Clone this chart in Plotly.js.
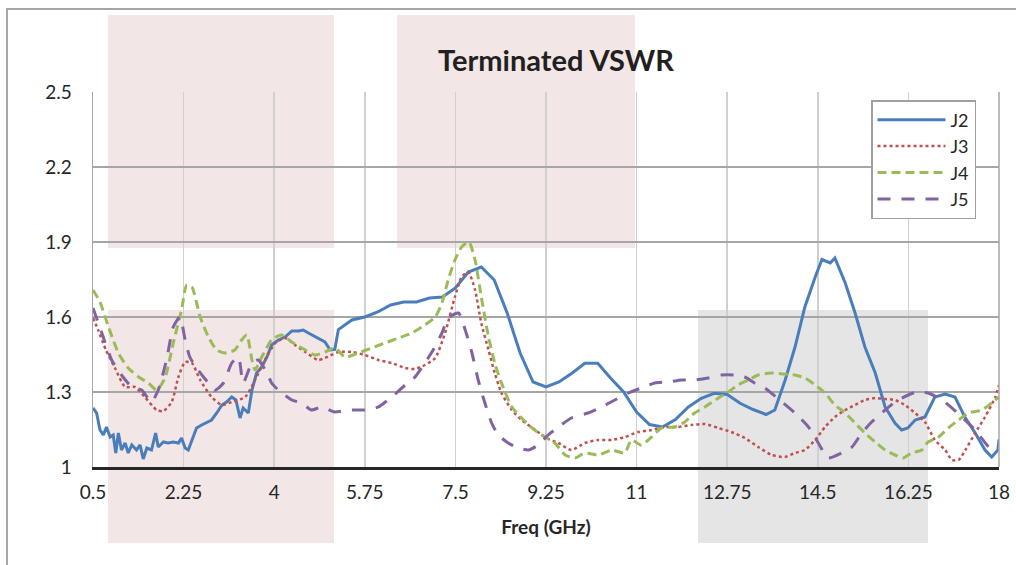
<!DOCTYPE html>
<html>
<head>
<meta charset="utf-8">
<script src="https://cdn.plot.ly/plotly-3.0.1.min.js"></script>
<style>html,body{margin:0;padding:0;background:#fff;}#chart{width:1016px;height:565px;}</style>
</head>
<body>
<div id="chart"></div>
<script>
// ---- data ----
const xTicks = [0.5, 2.25, 4, 5.75, 7.5, 9.25, 11, 12.75, 14.5, 16.25, 18];
const xTickLabels = ["0.5", "2.25", "4", "5.75", "7.5", "9.25", "11", "12.75", "14.5", "16.25", "18"];
const yTicks = [1, 1.3, 1.6, 1.9, 2.2, 2.5];
const yTickLabels = ["1", "1.3", "1.6", "1.9", "2.2", "2.5"];

const freqJ2 = [0.5, 0.57, 0.635, 0.70, 0.76, 0.83, 0.89, 0.94, 0.99, 1.05, 1.12, 1.18, 1.25, 1.34, 1.41, 1.47, 1.54, 1.63, 1.71, 1.76, 1.86, 1.95, 2.05, 2.15, 2.21, 2.28, 2.34, 2.41, 2.50, 2.60, 2.70, 2.79, 2.89, 2.99, 3.08, 3.18, 3.26, 3.34, 3.40, 3.50, 3.57, 3.66, 3.76, 3.86, 3.95, 4.08, 4.21, 4.34, 4.47, 4.56, 4.66, 4.85, 4.98, 5.08, 5.17, 5.24, 5.5, 5.75, 6.0, 6.25, 6.5, 6.75, 7.0, 7.25, 7.5, 7.75, 8.0, 8.25, 8.5, 8.75, 9.0, 9.25, 9.5, 9.75, 10.0, 10.25, 10.5, 10.75, 11.0, 11.25, 11.5, 11.75, 12.0, 12.25, 12.5, 12.75, 13.0, 13.25, 13.5, 13.67, 13.87, 14.06, 14.25, 14.45, 14.58, 14.74, 14.83, 15.03, 15.22, 15.41, 15.61, 15.80, 15.99, 16.12, 16.24, 16.38, 16.57, 16.76, 16.96, 17.15, 17.34, 17.54, 17.73, 17.86, 17.98, 18.0];
const vswrJ2 = [1.236, 1.216, 1.148, 1.128, 1.16, 1.12, 1.128, 1.056, 1.136, 1.068, 1.096, 1.056, 1.088, 1.068, 1.088, 1.032, 1.076, 1.068, 1.136, 1.08, 1.10, 1.096, 1.10, 1.096, 1.116, 1.076, 1.068, 1.108, 1.156, 1.168, 1.18, 1.188, 1.216, 1.248, 1.26, 1.28, 1.268, 1.196, 1.236, 1.216, 1.308, 1.376, 1.40, 1.44, 1.488, 1.508, 1.52, 1.544, 1.544, 1.548, 1.536, 1.516, 1.50, 1.468, 1.47, 1.55, 1.588, 1.60, 1.62, 1.648, 1.66, 1.66, 1.676, 1.68, 1.716, 1.78, 1.80, 1.748, 1.616, 1.456, 1.34, 1.32, 1.34, 1.375, 1.415, 1.415, 1.355, 1.30, 1.22, 1.17, 1.16, 1.19, 1.24, 1.275, 1.295, 1.29, 1.255, 1.23, 1.21, 1.228, 1.348, 1.48, 1.64, 1.76, 1.83, 1.816, 1.836, 1.736, 1.616, 1.48, 1.376, 1.24, 1.176, 1.148, 1.156, 1.188, 1.20, 1.28, 1.292, 1.28, 1.20, 1.136, 1.068, 1.04, 1.068, 1.11];

const freqJ3 = [0.5, 0.60, 0.75, 0.925, 1.12, 1.31, 1.50, 1.73, 1.86, 2.02, 2.15, 2.28, 2.41, 2.57, 2.79, 2.99, 3.18, 3.44, 3.63, 3.82, 4.02, 4.21, 4.40, 4.60, 4.85, 4.98, 5.24, 5.5, 5.75, 6.01, 6.27, 6.53, 6.72, 6.91, 7.11, 7.30, 7.49, 7.62, 7.75, 7.88, 8.0, 8.14, 8.26, 8.39, 8.59, 8.78, 9.04, 9.29, 9.49, 9.74, 10.0, 10.26, 10.52, 10.77, 11.03, 11.29, 11.55, 11.8, 12.06, 12.32, 12.58, 12.83, 13.09, 13.35, 13.61, 13.86, 14.06, 14.25, 14.45, 14.64, 14.83, 15.03, 15.22, 15.41, 15.61, 15.80, 15.99, 16.18, 16.38, 16.57, 16.76, 16.96, 17.09, 17.22, 17.35, 17.54, 17.73, 17.93, 18.0];
const vswrJ3 = [1.596, 1.548, 1.468, 1.396, 1.32, 1.32, 1.28, 1.228, 1.224, 1.26, 1.36, 1.42, 1.416, 1.348, 1.28, 1.248, 1.26, 1.28, 1.348, 1.428, 1.496, 1.516, 1.488, 1.46, 1.428, 1.436, 1.46, 1.46, 1.448, 1.428, 1.416, 1.396, 1.392, 1.408, 1.436, 1.536, 1.68, 1.76, 1.78, 1.708, 1.576, 1.468, 1.376, 1.296, 1.228, 1.188, 1.148, 1.112, 1.096, 1.068, 1.096, 1.108, 1.108, 1.12, 1.14, 1.148, 1.16, 1.16, 1.168, 1.172, 1.156, 1.14, 1.116, 1.08, 1.048, 1.04, 1.056, 1.068, 1.108, 1.16, 1.20, 1.228, 1.248, 1.268, 1.276, 1.272, 1.268, 1.248, 1.216, 1.18, 1.108, 1.068, 1.028, 1.028, 1.068, 1.136, 1.20, 1.28, 1.328];

const freqJ4 = [0.5, 0.635, 0.80, 0.99, 1.18, 1.38, 1.57, 1.73, 1.89, 2.05, 2.21, 2.31, 2.41, 2.57, 2.73, 2.89, 3.05, 3.24, 3.37, 3.47, 3.57, 3.63, 3.76, 3.95, 4.14, 4.34, 4.60, 4.79, 4.98, 5.17, 5.37, 5.62, 5.88, 6.14, 6.40, 6.66, 6.91, 7.11, 7.24, 7.36, 7.49, 7.62, 7.76, 7.88, 8.0, 8.14, 8.26, 8.39, 8.59, 8.78, 8.98, 9.17, 9.42, 9.62, 9.81, 10.0, 10.26, 10.52, 10.77, 10.9, 11.09, 11.29, 11.48, 11.74, 11.93, 12.12, 12.32, 12.58, 12.77, 12.96, 13.16, 13.35, 13.61, 13.84, 14.06, 14.25, 14.45, 14.64, 14.83, 15.03, 15.22, 15.41, 15.61, 15.80, 15.99, 16.15, 16.31, 16.51, 16.63, 16.83, 17.02, 17.22, 17.41, 17.67, 17.86, 18.0];
const vswrJ4 = [1.708, 1.66, 1.56, 1.456, 1.396, 1.36, 1.336, 1.308, 1.356, 1.496, 1.628, 1.728, 1.72, 1.60, 1.52, 1.468, 1.456, 1.468, 1.508, 1.528, 1.428, 1.388, 1.44, 1.508, 1.528, 1.50, 1.468, 1.448, 1.46, 1.476, 1.44, 1.456, 1.476, 1.496, 1.516, 1.536, 1.568, 1.60, 1.656, 1.748, 1.828, 1.88, 1.90, 1.828, 1.68, 1.52, 1.416, 1.336, 1.24, 1.196, 1.156, 1.128, 1.096, 1.048, 1.036, 1.056, 1.048, 1.068, 1.056, 1.108, 1.088, 1.12, 1.156, 1.16, 1.18, 1.216, 1.24, 1.276, 1.30, 1.328, 1.348, 1.368, 1.376, 1.372, 1.368, 1.356, 1.328, 1.296, 1.248, 1.216, 1.176, 1.136, 1.10, 1.068, 1.048, 1.036, 1.056, 1.068, 1.10, 1.12, 1.156, 1.188, 1.216, 1.228, 1.256, 1.28];

const freqJ5 = [0.5, 0.67, 0.86, 1.05, 1.25, 1.44, 1.63, 1.76, 1.92, 2.05, 2.18, 2.28, 2.37, 2.53, 2.73, 2.86, 3.02, 3.18, 3.31, 3.40, 3.57, 3.69, 3.86, 3.95, 4.08, 4.34, 4.53, 4.72, 4.92, 5.17, 5.43, 5.75, 6.01, 6.27, 6.53, 6.72, 6.91, 7.07, 7.24, 7.36, 7.56, 7.69, 7.82, 7.94, 8.07, 8.20, 8.33, 8.52, 8.72, 8.91, 9.10, 9.29, 9.49, 9.74, 10.06, 10.32, 10.58, 10.84, 11.09, 11.35, 11.61, 11.87, 12.12, 12.38, 12.64, 12.9, 13.09, 13.28, 13.48, 13.74, 14.06, 14.32, 14.51, 14.70, 14.96, 15.16, 15.35, 15.54, 15.80, 16.05, 16.38, 16.63, 16.9, 17.2, 17.54, 17.8, 17.96];
const vswrJ5 = [1.636, 1.536, 1.428, 1.368, 1.32, 1.308, 1.26, 1.308, 1.428, 1.56, 1.60, 1.508, 1.44, 1.388, 1.336, 1.308, 1.336, 1.416, 1.44, 1.336, 1.416, 1.428, 1.376, 1.336, 1.308, 1.268, 1.256, 1.228, 1.24, 1.22, 1.228, 1.228, 1.24, 1.28, 1.328, 1.36, 1.416, 1.468, 1.536, 1.596, 1.616, 1.548, 1.456, 1.348, 1.256, 1.176, 1.128, 1.096, 1.076, 1.068, 1.088, 1.128, 1.16, 1.196, 1.216, 1.24, 1.268, 1.296, 1.316, 1.336, 1.34, 1.348, 1.348, 1.356, 1.368, 1.368, 1.36, 1.336, 1.316, 1.272, 1.216, 1.16, 1.096, 1.036, 1.056, 1.08, 1.136, 1.18, 1.228, 1.268, 1.298, 1.296, 1.268, 1.216, 1.148, 1.08, 1.056];

const seriesNames = ["J2", "J3", "J4", "J5"];
const chartTitle = "Terminated VSWR";
const xTitle = "Freq (GHz)";

// ---- styles ----
const FONT = "Lato, 'Open Sans', sans-serif";
const colors = ["#4a7ebb", "#c0504d", "#9bbb59", "#8064a2"];

const traces = [
  {x: freqJ2, y: vswrJ2, name: seriesNames[0], mode: "lines",
   line: {color: colors[0], width: 3, shape: "linear"}},
  {x: freqJ3, y: vswrJ3, name: seriesNames[1], mode: "lines",
   line: {color: colors[1], width: 2.5, dash: "dot", shape: "spline", smoothing: 0.6}},
  {x: freqJ4, y: vswrJ4, name: seriesNames[2], mode: "lines",
   line: {color: colors[2], width: 3, dash: "9px,5px", shape: "spline", smoothing: 0.6}},
  {x: freqJ5, y: vswrJ5, name: seriesNames[3], mode: "lines",
   line: {color: colors[3], width: 3, dash: "13px,11px", shape: "spline", smoothing: 0.6}}
];

// plot area: x 93..999, y 92..467 (pixels)
const L = 93, R = 999, T = 92, B = 467;
const px = v => (v - L) / (R - L);
const py = v => (B - v) / (B - T);

function rect(x0, y0, x1, y1, fill) {
  return {type: "rect", xref: "paper", yref: "paper", layer: "below",
    x0: px(x0), x1: px(x1), y0: py(y1), y1: py(y0),
    fillcolor: fill, line: {width: 0}};
}

const layout = {
  width: 1016, height: 565,
  margin: {l: L, r: 1016 - R, t: T, b: 565 - B, pad: 0},
  paper_bgcolor: "#ffffff",
  plot_bgcolor: "rgba(0,0,0,0)",
  font: {family: FONT, size: 19, color: "#262626"},
  title: {text: "<b>" + chartTitle + "</b>", font: {family: FONT, size: 29, color: "#231f20"},
    x: px(556), xref: "paper", xanchor: "center", y: 1 - 61 / 565, yref: "container", yanchor: "middle"},
  showlegend: true,
  legend: {x: px(871), y: py(100), xanchor: "left", yanchor: "top",
    bgcolor: "#ffffff", bordercolor: "#a0a0a0", borderwidth: 1.5,
    font: {family: FONT, size: 18, color: "#262626"}, tracegroupgap: 0, itemwidth: 68},
  xaxis: {
    range: [0.5, 18], tickmode: "array", tickvals: xTicks, ticktext: xTickLabels,
    showgrid: true, gridcolor: "#d0d0d0", gridwidth: 1.5,
    showline: true, linecolor: "#262626", linewidth: 2.5, mirror: false,
    ticks: "outside", ticklen: 7, tickcolor: "rgba(0,0,0,0)",
    zeroline: false, fixedrange: true,
    title: {text: "<b>" + xTitle + "</b>", font: {family: FONT, size: 19, color: "#262626"}, standoff: 19}
  },
  yaxis: {
    range: [1, 2.5], tickmode: "array", tickvals: yTicks, ticktext: yTickLabels,
    showgrid: true, gridcolor: "#a6a6a6", gridwidth: 1.5,
    showline: true, linecolor: "#a6a6a6", linewidth: 1.5, mirror: false,
    ticks: "outside", ticklen: 16, tickcolor: "rgba(0,0,0,0)",
    zeroline: false, fixedrange: true
  },
  shapes: [
    rect(108, 15, 334, 248, "#f2e6e7"),
    rect(397, 15, 635, 248, "#f2e6e7"),
    rect(108, 310, 334, 543, "#f2e6e7"),
    rect(698, 310, 928, 543, "#e5e5e5"),
    // outer chart frame (cropped at right and bottom)
    {type: "rect", xref: "paper", yref: "paper", layer: "below",
     x0: px(7), x1: px(1030), y0: py(580), y1: py(9),
     line: {color: "#a6a6a6", width: 2}, fillcolor: "rgba(0,0,0,0)"},
    // right plot border
    {type: "line", xref: "paper", yref: "paper", layer: "above",
     x0: 1, x1: 1, y0: 0, y1: 1, line: {color: "#a6a6a6", width: 1.5}}
  ]
};

Plotly.newPlot("chart", traces, layout, {displayModeBar: false, staticPlot: true});
</script>
</body>
</html>
